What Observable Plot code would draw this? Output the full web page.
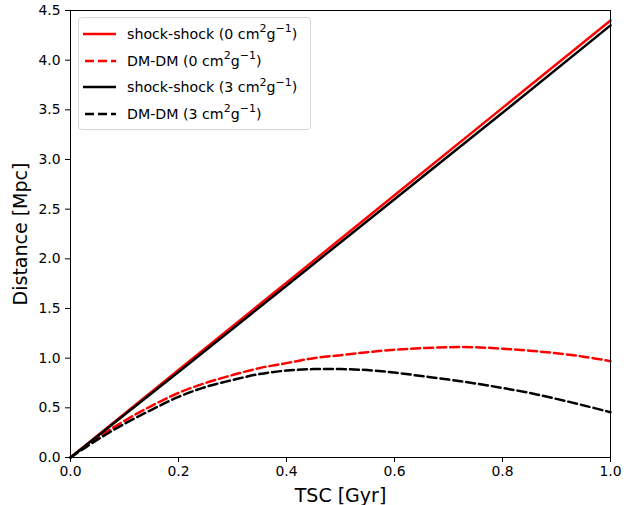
<!DOCTYPE html>
<html>
<head>
<meta charset="utf-8">
<script src="https://cdn.jsdelivr.net/npm/d3@7"></script>
<script src="https://cdn.jsdelivr.net/npm/@observablehq/plot@0.6"></script>
<style>
  body { margin: 0; background: #fff; font-family: "DejaVu Sans", sans-serif; }
  #wrap { position: relative; width: 636px; height: 505px; }
  #legend { position: absolute; left: 78px; top: 17px; width: 233px; height: 113px;
    border: 1px solid #d6d6d6; border-radius: 4px; background: rgba(255,255,255,0.85);
    box-sizing: border-box; font-size: 14.2px; }
  .row { position: absolute; left: 0; height: 20px; display: flex; align-items: center; white-space: nowrap; }
  .row svg { margin-left: 4px; margin-right: 10px; }
  sup { font-size: 11px; line-height: 0; position: relative; top: -1px; }
</style>
</head>
<body>
<div id="wrap"></div>
<script>
// ---- data ----
const tscSolid = [0, 0.2, 0.4, 0.6, 0.8, 1.0];
const shock0 = [0, 0.88, 1.76, 2.64, 3.52, 4.40];
const shock3 = [0, 0.86, 1.73, 2.60, 3.47, 4.35];

const tscDash = [0, 0.05, 0.1, 0.15, 0.2, 0.25, 0.3, 0.35, 0.4, 0.45, 0.5, 0.55, 0.6, 0.65, 0.7, 0.75, 0.8, 0.85, 0.9, 0.95, 1.0];
const dm0 = [0, 0.20, 0.37, 0.52, 0.65, 0.75, 0.83, 0.90, 0.95, 1.00, 1.03, 1.06, 1.085, 1.10, 1.11, 1.11, 1.095, 1.075, 1.05, 1.015, 0.97];
const dm3 = [0, 0.18, 0.34, 0.48, 0.61, 0.71, 0.78, 0.84, 0.875, 0.89, 0.89, 0.88, 0.855, 0.82, 0.785, 0.745, 0.70, 0.65, 0.59, 0.525, 0.456];

const xTicks = [0, 0.2, 0.4, 0.6, 0.8, 1.0];
const yTicks = [0, 0.5, 1.0, 1.5, 2.0, 2.5, 3.0, 3.5, 4.0, 4.5];

const seriesLabels = ["shock-shock (0 cm²g⁻¹)", "DM-DM (0 cm²g⁻¹)", "shock-shock (3 cm²g⁻¹)", "DM-DM (3 cm²g⁻¹)"];

const solid0 = tscSolid.map((t, i) => ({t, d: shock0[i]}));
const solid3 = tscSolid.map((t, i) => ({t, d: shock3[i]}));
const dash0 = tscDash.map((t, i) => ({t, d: dm0[i]}));
const dash3 = tscDash.map((t, i) => ({t, d: dm3[i]}));

const lw = 2.5;
const chart = Plot.plot({
  width: 636, height: 505,
  marginLeft: 70, marginRight: 26, marginTop: 10, marginBottom: 48,
  style: { fontFamily: "DejaVu Sans, sans-serif", fontSize: "13.9px", color: "#000", background: "#fff" },
  x: { domain: [0, 1] },
  y: { domain: [0, 4.5] },
  marks: [
    Plot.line(solid0, { x: "t", y: "d", stroke: "#ff0000", strokeWidth: lw, curve: "linear" }),
    Plot.line(dash0, { x: "t", y: "d", stroke: "#ff0000", strokeWidth: lw, strokeDasharray: "9,4", curve: "catmull-rom" }),
    Plot.line(solid3, { x: "t", y: "d", stroke: "#000", strokeWidth: lw, curve: "linear" }),
    Plot.line(dash3, { x: "t", y: "d", stroke: "#000", strokeWidth: lw, strokeDasharray: "9,4", curve: "catmull-rom" }),
    Plot.frame({ stroke: "#000", strokeWidth: 1 }),
    Plot.axisX({ ticks: xTicks, tickFormat: d3.format(".1f"), tickSize: 5, tickPadding: 4, label: null, fontSize: 13.9 }),
    Plot.axisY({ ticks: yTicks, tickFormat: d3.format(".1f"), tickSize: 5, tickPadding: 5, label: null, fontSize: 13.9 }),
    Plot.text(["TSC [Gyr]"], { frameAnchor: "bottom", text: d => d, dy: 38, fontSize: 19, textAnchor: "middle", lineAnchor: "middle" }),
    Plot.text(["Distance [Mpc]"], { frameAnchor: "left", text: d => d, dx: -50, rotate: -90, fontSize: 19, textAnchor: "middle", lineAnchor: "middle" })
  ]
});
const wrap = document.getElementById("wrap");
wrap.appendChild(chart);

// legend
const legend = document.createElement("div");
legend.id = "legend";
const styles = [
  { color: "#ff0000", dash: null }, { color: "#ff0000", dash: "9,4" },
  { color: "#000", dash: null }, { color: "#000", dash: "9,4" }
];
const parts = [["shock-shock (0 cm", "2", "g", "−1", ")"], ["DM-DM (0 cm", "2", "g", "−1", ")"],
               ["shock-shock (3 cm", "2", "g", "−1", ")"], ["DM-DM (3 cm", "2", "g", "−1", ")"]];
parts.forEach((p, i) => {
  const row = document.createElement("div");
  row.className = "row";
  row.style.top = (6 + i * 26.7) + "px";
  const s = styles[i];
  row.innerHTML = `<svg width="34" height="10"><line x1="0" y1="5" x2="33" y2="5" stroke="${s.color}" stroke-width="${lw}" ${s.dash ? `stroke-dasharray="${s.dash}" stroke-dashoffset="-2"` : ""}/></svg>` +
    `<span>${p[0]}<sup>${p[1]}</sup>${p[2]}<sup>${p[3]}</sup>${p[4]}</span>`;
  row.title = seriesLabels[i];
  legend.appendChild(row);
});
wrap.appendChild(legend);
</script>
</body>
</html>
